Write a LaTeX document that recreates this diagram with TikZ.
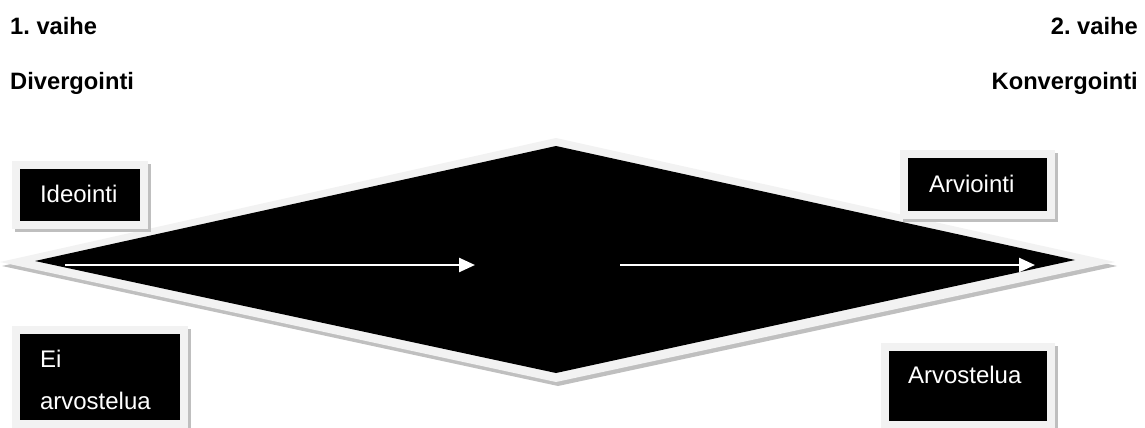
\documentclass[tikz,border=0pt]{standalone}
\usepackage{fontspec}
\setmainfont{Liberation Sans}
\usetikzlibrary{shadows, arrows.meta, positioning, calc}
\definecolor{framegrey}{HTML}{F2F2F2}
\definecolor{shadowgrey}{HTML}{BFBFBF}
\frenchspacing

\begin{document}
\begin{tikzpicture}[x=1pt, y=-1pt,
    box/.style={rectangle, fill=black, draw=framegrey, line width=8pt, text=white, inner ysep=0pt, outer sep=0pt, align=left, font=\fontsize{24pt}{42pt}\selectfont,
        drop shadow={shadow xshift=3pt, shadow yshift=-3pt, fill=shadowgrey, draw=shadowgrey, line width=8pt, opacity=1}},
    heading/.style={inner sep=0pt, font=\fontsize{23.7pt}{28pt}\bfseries\selectfont},
    arrow/.style={draw=white, line width=2.5pt, -{Triangle[length=16pt, width=14pt]}}]
    \useasboundingbox (0,0) rectangle (1145,428);

    % phases
    \node [heading, anchor=base west] (phase1) at (10,35) {1. vaihe};
    \node [heading, anchor=base west] (diverge) at (10,89) {Divergointi};
    \node [heading, anchor=base east] (phase2) at (1138,35) {2. vaihe};
    \node [heading, anchor=base east] (converge) at (1138,89) {Konvergointi};

    % diamond
    \coordinate (outerL) at (0,262);
    \coordinate (outerT) at (556,138);
    \coordinate (outerR) at (1115,262);
    \coordinate (outerB) at (556,382);
    \coordinate (innerL) at (35,261);
    \coordinate (innerT) at (556,146);
    \coordinate (innerR) at (1075,260);
    \coordinate (innerB) at (556,373);
    \fill [framegrey, drop shadow={shadow xshift=2pt, shadow yshift=-4pt, fill=shadowgrey, opacity=1}] (outerL) -- (outerT) -- (outerR) -- (outerB) -- cycle;
    \fill [black] (innerL) -- (innerT) -- (innerR) -- (innerB) -- cycle;

    % arrows
    \coordinate (divStart) at (65,265);
    \coordinate (divEnd) at (475,265);
    \coordinate (convStart) at (620,265);
    \coordinate (convEnd) at (1035,265);
    \draw [arrow] (divStart) -- (divEnd);
    \draw [arrow] (convStart) -- (convEnd);

    % boxes
    \node [box, anchor=north west, inner xsep=24pt, text width=80pt, text height=37pt, text depth=23pt] (ideointi) at (16,165) {Ideointi};
    \node [box, anchor=north west, inner xsep=25pt, text width=97pt, text height=38pt, text depth=23pt] (arviointi) at (904,154) {Arviointi};
    \node [box, anchor=north west, inner xsep=24pt, text width=120pt, text height=37pt, text depth=57pt] (eiarvostelua) at (16,330) {Ei\\arvostelua};
    \node [box, anchor=north west, inner xsep=23.5pt, text width=119pt, text height=36pt, text depth=42pt] (arvostelua) at (884.5,347) {Arvostelua};
\end{tikzpicture}
\end{document}
